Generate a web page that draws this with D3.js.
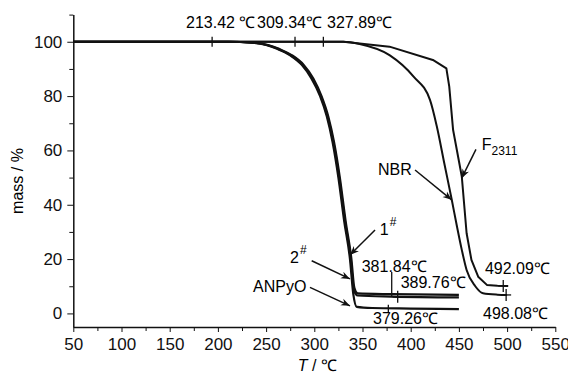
<!DOCTYPE html>
<html>
<head>
<meta charset="utf-8">
<script src="https://cdn.jsdelivr.net/npm/d3@7"></script>
<style>
  body { margin: 0; background: #fff; }
  svg { display: block; font-family: "Liberation Sans", Arial, sans-serif; }
  .axis path, .axis line { stroke: #111; }
  .axis text { fill: #111; }
</style>
</head>
<body>
<div id="chart"></div>
<script>
"use strict";

// TGA curves (T in degC, mass in %)
var anpyoT = [50, 210, 235, 250, 262, 275, 287, 297, 306, 313, 319, 325, 331, 337, 340.5, 344, 360, 400, 450],
  anpyoM = [100, 100, 99.7, 98.8, 97.3, 95, 91.5, 86.5, 80, 72.5, 63, 50, 34, 20, 7, 2.4, 2.0, 1.8, 1.6];
var s1T = [50, 212, 237, 252, 264, 277, 289, 299, 307.5, 314.5, 320.5, 326.5, 332.5, 338.5, 341.5, 345, 380, 450],
  s1M = [100, 100, 99.7, 98.8, 97.3, 95, 91.5, 86.5, 80, 72.5, 63, 50, 34, 20, 9.5, 7.4, 7.1, 6.8];
var s2T = [50, 211, 236, 251, 263, 276, 288, 298, 306.8, 313.8, 319.8, 325.8, 331.8, 337.8, 341, 345, 380, 450],
  s2M = [100, 100, 99.7, 98.8, 97.3, 95, 91.5, 86.5, 80, 72.5, 63, 50, 34, 20, 8.5, 6.6, 6.2, 5.9];
var nbrT = [50, 330, 347, 378, 403, 420, 427, 435, 442.5, 448, 453, 458, 467, 475, 490, 500],
  nbrM = [100, 100, 99.2, 95.1, 87.2, 78.6, 69, 55, 42, 32, 23.4, 16, 10, 7.4, 6.9, 6.8];
var fT = [50, 330, 347, 378, 423, 437, 440, 444, 453, 458, 463, 470, 479, 490, 501],
  fM = [100, 100, 99.4, 98.2, 93.3, 90.2, 83.5, 67.5, 50.4, 29.5, 19.7, 13.5, 10.5, 10.2, 10.1];

var xTicks = [50, 100, 150, 200, 250, 300, 350, 400, 450, 500, 550],
  yTicks = [0, 20, 40, 60, 80, 100];

// onset marks on the 100 % line and their labels
var onsetT = [194, 280, 309.4],
  onsetLabels = ["213.42 \u2103", "309.34\u2103", "327.89\u2103"],
  onsetLabelT = [166.9, 240.6, 313.2];

// end-of-step marks: [T, mass, kind]
var endMarks = [[376.8, 1.7, "tick"], [380.3, 6.8, "line"], [386.5, 6.1, "plus"], [496, 10.1, "plus"], [499, 6.8, "plus"]],
  endLabels = ["379.26\u2103", "381.84\u2103", "389.76\u2103", "492.09\u2103", "498.08\u2103"],
  endLabelPos = [[360.9, -3.9], [349.2, 15.3], [389.6, 9.3], [477, 14.5], [475, -2.1]];

// curve name arrows: label, label pos, arrow start, arrow end
var arrowNames = ["F", "NBR", "1", "2", "ANPyO"],
  arrowSub = ["2311", "", "", "", ""],
  arrowSup = ["", "", "#", "#", ""],
  arrowLabelPos = [[473.7, 60.1], [366, 51], [368, 28.9], [274.8, 18.5], [236.4, 8.0]],
  arrowFrom = [[467.7, 60.4], [404.5, 52.8], [363, 30.7], [297.3, 19.4], [295.5, 9.6]],
  arrowTo = [[452.9, 49.8], [442.5, 41.8], [337, 21.5], [337, 12.7], [337, 2.8]];

var width = 568, height = 374,
  margin = {top: 14.6, right: 12.7, bottom: 47, left: 73.3};

var svg = d3.select("#chart").append("svg")
  .attr("width", width)
  .attr("height", height);

var x = d3.scaleLinear().domain([50, 550]).range([margin.left, width - margin.right]),
  y = d3.scaleLinear().domain([-5, 110]).range([height - margin.bottom, margin.top]);

// minor ticks
svg.append("g")
  .attr("class", "axis")
  .attr("transform", "translate(0," + y(-5) + ")")
  .call(d3.axisBottom(x).tickValues(d3.range(75, 550, 50)).tickSize(4).tickFormat(""))
  .select(".domain").remove();
svg.append("g")
  .attr("class", "axis")
  .attr("transform", "translate(" + x(50) + ",0)")
  .call(d3.axisLeft(y).tickValues([10, 30, 50, 70, 90, 110]).tickSize(4).tickFormat(""))
  .select(".domain").remove();

var xAxis = svg.append("g")
  .attr("class", "axis")
  .attr("transform", "translate(0," + y(-5) + ")")
  .call(d3.axisBottom(x).tickValues(xTicks).tickSize(5).tickSizeOuter(0).tickPadding(6));
xAxis.select(".domain").attr("stroke-width", 1.5);
xAxis.selectAll("text").attr("font-size", 17);

var yAxis = svg.append("g")
  .attr("class", "axis")
  .attr("transform", "translate(" + x(50) + ",0)")
  .call(d3.axisLeft(y).tickValues(yTicks).tickSize(6).tickSizeOuter(0).tickPadding(5));
yAxis.select(".domain").attr("stroke-width", 1.5);
yAxis.selectAll("text").attr("font-size", 17);

svg.append("text")
  .attr("transform", "translate(23," + 181 + ") rotate(-90)")
  .attr("text-anchor", "middle")
  .attr("font-size", 16)
  .text("mass / %");

var xl = svg.append("text")
  .attr("x", x(300) + 3)
  .attr("y", 371)
  .attr("text-anchor", "middle")
  .attr("font-size", 16);
xl.append("tspan").attr("font-style", "italic").text("T");
xl.append("tspan").text(" / \u2103");

// curves
function zip(ts, ms) { return ts.map(function(t, i) { return [t, ms[i]]; }); }

var smooth = d3.line().curve(d3.curveMonotoneX)
    .x(function(d) { return x(d[0]); }).y(function(d) { return y(d[1]); }),
  straight = d3.line()
    .x(function(d) { return x(d[0]); }).y(function(d) { return y(d[1]); });

[[nbrT, nbrM, smooth, 2], [fT, fM, straight, 2],
 [anpyoT, anpyoM, smooth, 2.2], [s1T, s1M, smooth, 2.2], [s2T, s2M, smooth, 2.2]].forEach(function(c) {
  svg.append("path")
    .datum(zip(c[0], c[1]))
    .attr("fill", "none")
    .attr("stroke", "#111")
    .attr("stroke-width", c[3])
    .attr("stroke-linejoin", "round")
    .attr("d", c[2]);
});

// onset marks
svg.selectAll(".onset")
  .data(onsetT)
  .enter().append("line")
  .attr("x1", function(d) { return x(d); })
  .attr("x2", function(d) { return x(d); })
  .attr("y1", y(100) - 5)
  .attr("y2", y(100) + 5)
  .attr("stroke", "#111")
  .attr("stroke-width", 1.3);

svg.selectAll(".onsetLabel")
  .data(onsetLabels)
  .enter().append("text")
  .attr("x", function(d, i) { return x(onsetLabelT[i]); })
  .attr("y", y(105.1))
  .attr("font-size", 16)
  .text(function(d) { return d; });

// end marks
endMarks.forEach(function(m) {
  var cx = x(m[0]), cy = y(m[1]);
  if (m[2] === "line") {
    svg.append("line").attr("x1", cx).attr("x2", cx).attr("y1", cy - 23).attr("y2", cy + 2)
      .attr("stroke", "#111").attr("stroke-width", 1.3);
  } else if (m[2] === "tick") {
    svg.append("line").attr("x1", cx).attr("x2", cx).attr("y1", cy - 4).attr("y2", cy + 4)
      .attr("stroke", "#111").attr("stroke-width", 1.3);
  } else {
    svg.append("line").attr("x1", cx).attr("x2", cx).attr("y1", cy - 6).attr("y2", cy + 6)
      .attr("stroke", "#111").attr("stroke-width", 1.3);
    svg.append("line").attr("x1", cx - 5).attr("x2", cx + 5).attr("y1", cy).attr("y2", cy)
      .attr("stroke", "#111").attr("stroke-width", 1.3);
  }
});

svg.selectAll(".endLabel")
  .data(endLabels)
  .enter().append("text")
  .attr("x", function(d, i) { return x(endLabelPos[i][0]); })
  .attr("y", function(d, i) { return y(endLabelPos[i][1]); })
  .attr("font-size", 16)
  .text(function(d) { return d; });

// arrows
svg.append("defs").append("marker")
  .attr("id", "arrow")
  .attr("viewBox", "0 0 10 10")
  .attr("refX", 10).attr("refY", 5)
  .attr("markerWidth", 9).attr("markerHeight", 9)
  .attr("markerUnits", "userSpaceOnUse")
  .attr("orient", "auto")
  .append("path").attr("d", "M0,1 L10,5 L0,9 L3,5 Z").attr("fill", "#111");

arrowNames.forEach(function(n, i) {
  svg.append("line")
    .attr("x1", x(arrowFrom[i][0])).attr("y1", y(arrowFrom[i][1]))
    .attr("x2", x(arrowTo[i][0])).attr("y2", y(arrowTo[i][1]))
    .attr("stroke", "#111").attr("stroke-width", 1.5)
    .attr("marker-end", "url(#arrow)");
  var t = svg.append("text")
    .attr("x", x(arrowLabelPos[i][0]))
    .attr("y", y(arrowLabelPos[i][1]))
    .attr("font-size", 16);
  t.append("tspan").text(n);
  if (arrowSub[i]) t.append("tspan").attr("dy", 5).attr("font-size", 12).text(arrowSub[i]);
  if (arrowSup[i]) t.append("tspan").attr("dy", -9).attr("dx", 1).attr("font-size", 12).text(arrowSup[i]);
});
</script>
</body>
</html>
